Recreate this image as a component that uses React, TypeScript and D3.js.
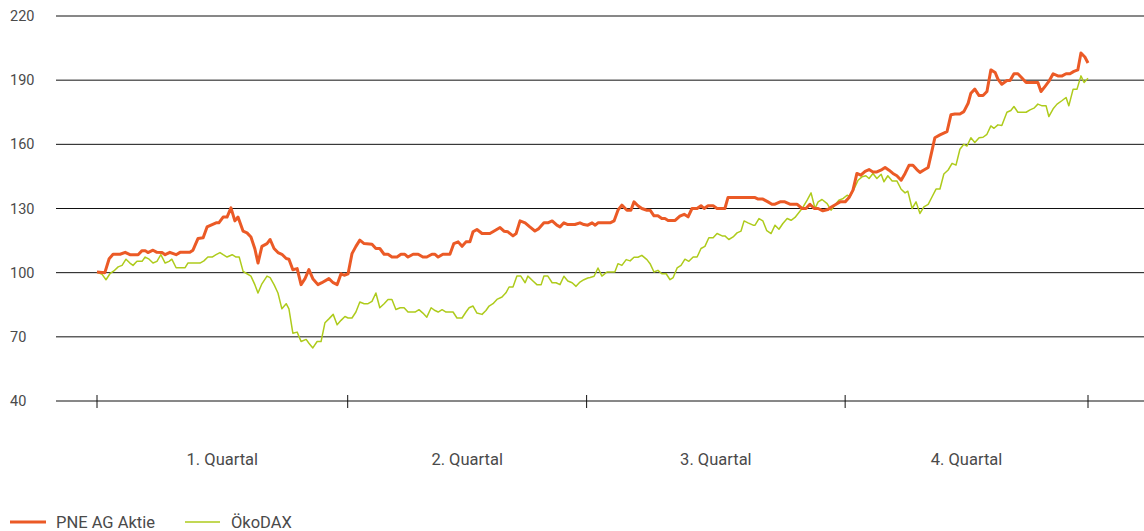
import React from "react";
import * as d3 from "d3";

// trading-day index, indexed value (start = 100)
const pneData: [number, number][] = [
  [0, 100.3], [2.0, 100], [3.1, 106.5], [4.1, 108.6], [5.9, 108.6], [7.2, 109.5], [8.4, 108.4], [10.5, 108.4],
  [11.5, 110.3], [12.3, 110.3], [13.0, 109.4], [14.3, 110.5], [15.3, 109.5], [16.6, 109.4], [17.4, 108.4],
  [18.6, 109.5], [20.2, 108.4], [21.2, 109.5], [23.7, 109.5], [24.5, 110.5], [25.8, 116], [27.1, 116.3],
  [28.1, 121.4], [29.4, 122.5], [30.4, 123.3], [31.1, 123.3], [32.2, 126], [33.2, 126], [34.2, 130.3],
  [35.2, 124.2], [36.0, 126], [37.3, 119.4], [38.3, 118.6], [39.3, 116.7], [40.3, 111.2], [41.1, 104.5],
  [42.1, 112.3], [43.4, 113.6], [44.2, 115.5], [45.2, 111.3], [46.2, 109.4], [47.2, 108.6], [48.3, 106.6],
  [49.0, 106.3], [50.0, 101.4], [51.1, 101.9], [52.1, 94.4], [53.1, 97.2], [54.1, 101.4], [55.1, 97.2],
  [56.4, 94.4], [57.4, 95.3], [59.2, 97.2], [60.3, 95.3], [61.3, 94.4], [62.3, 99.5], [63.1, 98.8],
  [64.1, 99.5], [65.1, 108.9], [66.1, 112.3], [67.1, 115.2], [68.2, 113.6], [70.2, 113.3], [71.2, 111.3],
  [72.2, 111.3], [73.3, 108.6], [74.3, 108.6], [75.3, 107.3], [76.6, 107.3], [77.6, 108.6], [78.6, 108.6],
  [79.4, 107.3], [80.7, 108.6], [82.0, 108.6], [83.2, 107.3], [84.2, 107.3], [85.5, 108.6], [86.3, 108.6],
  [87.1, 107.3], [88.3, 108.6], [90.1, 108.6], [91.1, 113.6], [92.2, 114.4], [93.2, 112.3], [94.2, 114.4],
  [95.2, 114.4], [96.0, 119.1], [97.0, 120.2], [98.3, 118.3], [100.3, 118.3], [101.4, 119.5], [102.9, 121.1],
  [103.9, 119.4], [104.9, 119.1], [106.2, 117.2], [107.0, 118.3], [108.0, 124.2], [109.3, 123.3],
  [110.5, 121.4], [111.8, 119.5], [112.8, 120.6], [114.1, 123.3], [115.1, 123.3], [116.2, 124.2],
  [117.4, 122.2], [118.2, 121.4], [119.2, 123.3], [120.2, 122.5], [122.0, 122.5], [123.3, 123.3],
  [124.3, 122.5], [125.3, 122.2], [126.4, 123.3], [127.2, 122.2], [127.9, 123.3], [131.0, 123.3],
  [132.0, 124.2], [133.0, 129.2], [134.0, 131.6], [135.3, 129.2], [136.3, 129.2], [137.1, 133.1],
  [138.1, 131.3], [139.1, 130], [140.4, 129.2], [141.2, 129.2], [142.2, 126.6], [143.2, 126.6],
  [144.2, 125.3], [145.0, 125.3], [145.8, 124.4], [147.6, 124.4], [148.8, 126.4], [149.9, 127.3],
  [150.9, 126.1], [151.9, 130], [153.2, 130], [154.2, 131.3], [155.0, 130], [156.0, 131.3], [157.3, 131.3],
  [158.3, 130], [160.3, 130], [161.1, 135.2], [166.7, 135.1], [168.0, 135.1], [168.8, 134.4], [170.0, 134.4],
  [171.3, 133.1], [172.3, 132], [173.1, 132], [174.4, 133.1], [175.6, 133.1], [176.9, 132], [178.7, 132],
  [180.0, 130], [181.0, 130], [182.0, 132], [183.1, 130], [184.1, 130], [185.3, 128.9], [186.6, 129.5],
  [187.6, 130.8], [188.7, 132], [189.7, 133.1], [191.0, 133.1], [192.0, 135.1], [193.0, 138.6],
  [194.0, 146.4], [195.0, 145.6], [196.1, 147.4], [197.1, 148.2], [198.1, 147.1], [199.1, 147.1],
  [200.4, 148.2], [201.2, 149.2], [202.2, 147.9], [203.2, 146.4], [204.2, 145.3], [205.3, 143.2],
  [206.3, 146.4], [207.3, 150.2], [208.3, 150.2], [209.3, 148.2], [210.1, 146.9], [211.1, 148],
  [212.2, 149.2], [213.2, 157.3], [213.9, 163.1], [215.2, 164.4], [217.0, 165.9], [218.0, 173.8],
  [219.0, 174.2], [220.3, 174.2], [221.3, 175.3], [222.4, 179.2], [223.1, 183.9], [224.1, 185.8],
  [225.2, 182.8], [226.2, 182.8], [227.2, 184.7], [228.2, 194.8], [229.3, 193.6], [230.0, 190.5],
  [231.0, 188.1], [232.3, 189.8], [233.1, 189.8], [234.1, 193], [235.1, 193], [236.2, 190.9],
  [237.2, 188.9], [238.2, 188.9], [240.2, 188.9], [241.0, 184.7], [242.0, 187], [243.0, 189.4],
  [244.1, 193], [245.3, 192], [246.4, 192], [247.4, 193], [248.4, 193], [249.4, 194.1], [250.4, 194.8],
  [251.2, 202.7], [252.2, 200.8], [253.0, 198],
];

const oekoDaxData: [number, number][] = [
  [0, 100.3], [1.3, 99.2], [2.3, 96.7], [3.3, 99.5], [4.3, 100.8], [5.4, 102.7], [6.4, 103.4], [7.4, 106.3],
  [8.4, 104.5], [9.2, 103.4], [10.2, 105.3], [11.5, 105.3], [12.3, 107.3], [13.3, 106.3], [14.3, 104.5],
  [15.3, 105.3], [16.3, 108.4], [17.4, 104.5], [18.4, 105.3], [19.1, 106.3], [20.2, 102.3], [22.5, 102.3],
  [23.2, 104.5], [26.3, 104.5], [27.3, 105.5], [28.3, 107.3], [29.4, 107.3], [30.4, 108.4], [31.4, 109.4],
  [32.2, 108.4], [33.2, 107.3], [34.5, 108.4], [35.5, 107.3], [36.3, 107.3], [37.3, 100.6], [38.3, 99.5],
  [39.3, 98.4], [40.3, 94.4], [41.1, 90.5], [42.1, 94.8], [43.4, 98.4], [44.2, 97.7], [45.2, 94.4],
  [46.2, 90.5], [47.2, 83.1], [48.3, 85.5], [49.0, 83.1], [50.0, 71.7], [51.1, 72.2], [52.1, 67.8],
  [53.4, 68.8], [54.1, 67], [55.1, 64.8], [56.2, 67.8], [57.2, 67.8], [58.2, 76.6], [59.2, 78.4],
  [60.3, 80.5], [61.3, 75.6], [62.3, 77.7], [63.3, 79.5], [64.1, 78.8], [65.1, 78.8], [66.1, 81.6],
  [67.1, 86.3], [68.2, 85.5], [69.2, 85.5], [70.2, 86.6], [71.2, 90.5], [72.2, 83.6], [73.3, 85.5],
  [74.3, 87.5], [75.3, 87.5], [76.3, 82.8], [77.4, 83.6], [78.4, 83.6], [79.4, 81.6], [81.2, 81.6],
  [82.2, 82.7], [83.2, 81.1], [84.2, 79.2], [85.3, 83.6], [86.3, 82.3], [87.1, 81.6], [88.1, 82.7],
  [89.1, 81.6], [90.9, 81.6], [91.9, 78.8], [93.2, 78.8], [94.2, 81.6], [95.0, 83.6], [96.0, 84.4],
  [97.0, 81.1], [98.3, 80.5], [99.3, 82.3], [100.1, 84.4], [101.1, 85.5], [102.1, 87.5], [103.4, 88.6],
  [104.4, 90.6], [105.2, 93.3], [106.2, 93.3], [107.2, 98.4], [108.2, 98.4], [109.3, 95.3], [110.0, 98.4],
  [111.3, 96.1], [112.3, 94.4], [113.4, 94.4], [114.1, 98.4], [115.1, 98.4], [116.2, 95.3], [117.2, 95.3],
  [118.2, 94.4], [119.2, 98.3], [120.2, 96.1], [121.3, 95.3], [122.3, 93.6], [123.3, 95.6], [124.3, 96.7],
  [125.3, 97.5], [125.9, 97.7], [126.9, 98.3], [127.9, 102.2], [128.9, 98.4], [130.2, 100.3], [132.2, 100.3],
  [133.0, 104.2], [134.0, 103.4], [135.1, 106.1], [136.1, 105.5], [137.1, 107.2], [138.1, 107.2],
  [139.1, 108.1], [140.4, 106.1], [141.2, 104.2], [142.2, 100.3], [143.2, 101.1], [144.2, 99.5],
  [145.3, 99.5], [146.3, 96.7], [147.1, 97.7], [148.1, 102.2], [149.1, 103.4], [150.1, 106.3],
  [151.1, 105.3], [152.2, 107.3], [153.2, 107.3], [154.2, 111.3], [155.2, 112.3], [156.2, 116.3],
  [157.3, 116.3], [158.3, 118.3], [159.6, 117.2], [160.3, 117.2], [161.3, 115.5], [162.4, 116.7],
  [163.4, 118.6], [164.4, 119.4], [165.2, 124.2], [166.2, 123.3], [167.5, 122.2], [168.0, 122.2],
  [169.0, 125.3], [170.0, 124.2], [171.0, 119.6], [172.1, 118.3], [173.1, 122.2], [174.1, 120.3],
  [175.1, 123], [176.2, 125.3], [177.2, 124.5], [178.2, 125.8], [179.2, 128.1], [180.2, 130.5],
  [181.3, 133.9], [182.3, 137.3], [183.3, 130], [184.1, 133.1], [185.1, 134.2], [186.4, 132.3],
  [187.4, 129.2], [188.4, 131.6], [189.4, 133.9], [190.5, 134.7], [191.5, 136.2], [192.2, 135.5],
  [193.3, 139.3], [194.3, 143.2], [195.3, 144.8], [196.3, 145.3], [197.1, 144], [198.1, 146.4], [199.1, 144],
  [200.2, 146], [200.9, 142.5], [201.9, 145.3], [203.0, 142.9], [204.2, 142.9], [205.3, 139], [206.3, 137.3],
  [207.0, 138.1], [208.1, 130], [209.1, 133.1], [210.1, 127.7], [211.1, 130.8], [212.2, 131.9],
  [213.2, 135.5], [214.2, 139.1], [215.2, 139.1], [216.2, 146.1], [217.3, 148], [218.3, 151.1],
  [219.3, 150.3], [220.3, 157.7], [221.3, 160], [222.1, 159.2], [223.1, 163.1], [224.1, 160.9],
  [225.2, 163.1], [226.2, 163.3], [227.2, 164.7], [228.2, 168.6], [229.0, 167.5], [230.0, 169.1],
  [231.0, 168.8], [232.3, 175], [233.3, 175.8], [234.1, 177.7], [235.1, 175], [237.2, 175], [238.2, 176.1],
  [239.2, 176.9], [240.2, 178.8], [241.3, 178], [242.3, 178], [243.0, 173], [244.1, 176.6], [245.1, 178.8],
  [246.4, 180.5], [247.4, 181.9], [248.1, 178], [249.2, 185.8], [250.2, 185.8], [251.2, 192],
  [252.0, 188.9], [253.0, 190.9],
];

const yTicks = [40, 70, 100, 130, 160, 190, 220];
const quarterBounds = [0, 64, 125, 191, 253];
const quarterLabels = ["1. Quartal", "2. Quartal", "3. Quartal", "4. Quartal"];
const seriesNames = ["PNE AG Aktie", "ÖkoDAX"];

const W = 1144;
const H = 531;
const ORANGE = "#EB5A26";
const GREEN = "#AECB1C";
const TEXT = "#4a4a4a";
const FONT = "Roboto, 'DejaVu Sans', sans-serif";

export default function App() {
  const x = d3.scaleLinear().domain([0, 253]).range([97, 1088]);
  const y = d3.scaleLinear().domain([40, 220]).range([401, 16]);
  const line = d3
    .line<[number, number]>()
    .x((d) => x(d[0]))
    .y((d) => y(d[1]))
    .curve(d3.curveLinear);

  return (
    <svg
      width={W}
      height={H}
      style={{ position: "absolute", left: 0, top: 0, background: "#fff" }}
      fontFamily={FONT}
    >
      {yTicks.map((t) => (
        <g key={t}>
          <line x1={56} x2={W} y1={y(t)} y2={y(t)} stroke="#111" strokeWidth={1} />
          <text x={10} y={y(t)} dy="0.35em" fontSize={14.5} fill={TEXT}>
            {t}
          </text>
        </g>
      ))}
      {quarterBounds.map((q) => (
        <line key={q} x1={x(q)} x2={x(q)} y1={395} y2={408} stroke="#111" strokeWidth={1} />
      ))}
      {quarterLabels.map((l, i) => (
        <text
          key={l}
          x={(x(quarterBounds[i]) + x(quarterBounds[i + 1])) / 2}
          y={465}
          textAnchor="middle"
          fontSize={16.5}
          fill={TEXT}
        >
          {l}
        </text>
      ))}
      <path d={line(oekoDaxData) || ""} fill="none" stroke={GREEN} strokeWidth={1.5} strokeLinejoin="round" />
      <path d={line(pneData) || ""} fill="none" stroke={ORANGE} strokeWidth={3} strokeLinejoin="round" />
      <g>
        <line x1={10} x2={46} y1={522} y2={522} stroke={ORANGE} strokeWidth={3} />
        <text x={56} y={528} fontSize={16.5} fill={TEXT}>
          {seriesNames[0]}
        </text>
        <line x1={185} x2={220} y1={522} y2={522} stroke={GREEN} strokeWidth={1.5} />
        <text x={231} y={528} fontSize={16.5} fill={TEXT}>
          {seriesNames[1]}
        </text>
      </g>
    </svg>
  );
}
